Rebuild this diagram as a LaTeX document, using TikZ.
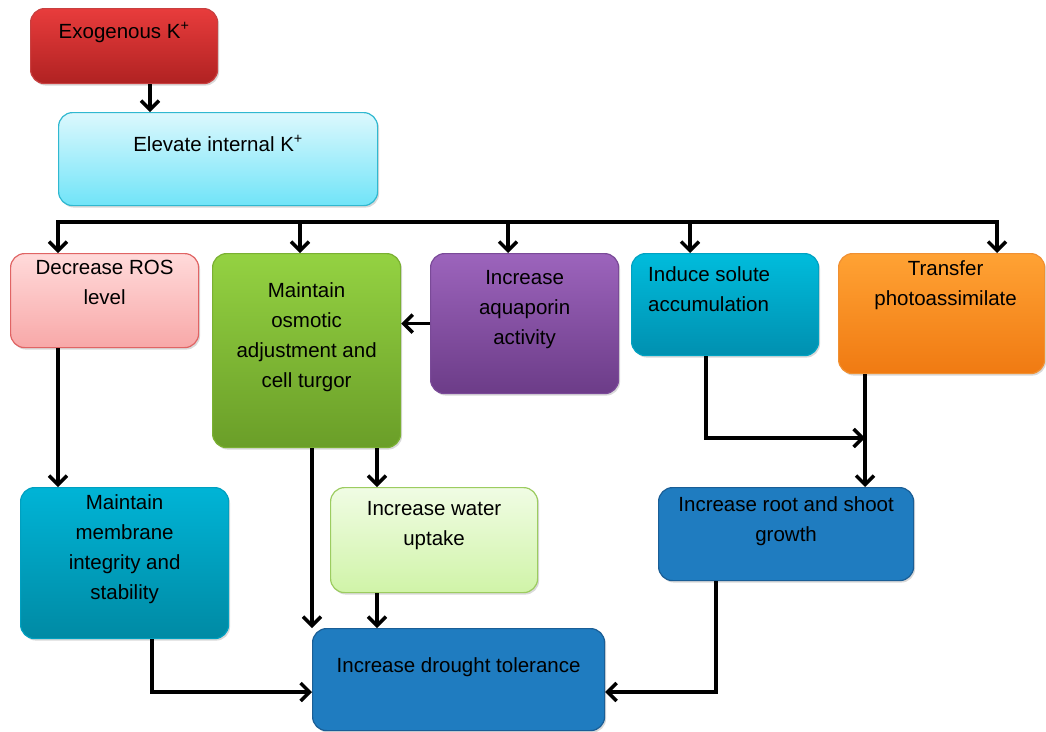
\documentclass[tikz,border=0pt]{standalone}
\usepackage{fontspec}
\setmainfont{Liberation Sans}
\usetikzlibrary{arrows.meta,shadows}
\definecolor{exoT}{HTML}{E83C3C}  \definecolor{exoB}{HTML}{B02222}  \definecolor{exoD}{HTML}{C84040}
\definecolor{elvT}{HTML}{DCF8FD}  \definecolor{elvB}{HTML}{70E4F8}  \definecolor{elvD}{HTML}{30B8D0}
\definecolor{rosT}{HTML}{FFDADA}  \definecolor{rosB}{HTML}{F8A8A8}  \definecolor{rosD}{HTML}{E06464}
\definecolor{osmT}{HTML}{94D242}  \definecolor{osmB}{HTML}{6A9E28}  \definecolor{osmD}{HTML}{7AB032}
\definecolor{aquT}{HTML}{9C64BC}  \definecolor{aquB}{HTML}{6C3C88}  \definecolor{aquD}{HTML}{7A4A98}
\definecolor{solT}{HTML}{00BCDC}  \definecolor{solB}{HTML}{0090B0}  \definecolor{solD}{HTML}{00A2C2}
\definecolor{traT}{HTML}{FFA234}  \definecolor{traB}{HTML}{F07A12}  \definecolor{traD}{HTML}{F09032}
\definecolor{memT}{HTML}{00B4D6}  \definecolor{memB}{HTML}{008AA4}  \definecolor{memD}{HTML}{00A0C0}
\definecolor{watT}{HTML}{F0FCE4}  \definecolor{watB}{HTML}{D0F4A8}  \definecolor{watD}{HTML}{9CCC60}
\definecolor{bluF}{HTML}{1F7CC0}  \definecolor{bluD}{HTML}{1A5E96}
\newcommand\boxfont{\fontsize{20.5}{30}\selectfont}
\tikzset{
  box/.style n args={3}{top color=#1, bottom color=#2, draw=#3, line width=1.2pt,
    rounded corners=14pt, anchor=north west,
    drop shadow={opacity=0.3, shadow xshift=1.5pt, shadow yshift=-2pt}},
  txt/.style={anchor=north, inner sep=0pt, align=center, font=\boxfont},
  >={Straight Barb[length=9pt,width=18pt]},
  arr/.style={->, line width=3.5pt},
}
\begin{document}
\begin{tikzpicture}[x=1pt,y=-1pt]
\useasboundingbox (0,0) rectangle (1046,731);
% boxes
\node[box={exoT}{exoB}{exoD}, minimum width=187pt, minimum height=75pt] (exo) at (30,8) {};
\node[box={elvT}{elvB}{elvD}, minimum width=319pt, minimum height=93pt] (elev) at (58,112) {};
\node[box={rosT}{rosB}{rosD}, minimum width=188pt, minimum height=94pt] (ros) at (10,253) {};
\node[box={osmT}{osmB}{osmD}, minimum width=188pt, minimum height=194pt] (osm) at (212,253) {};
\node[box={aquT}{aquB}{aquD}, minimum width=188pt, minimum height=140pt] (aqua) at (430,253) {};
\node[box={solT}{solB}{solD}, minimum width=187pt, minimum height=102pt] (sol) at (631,253) {};
\node[box={traT}{traB}{traD}, minimum width=206pt, minimum height=120pt] (tra) at (838,253) {};
\node[box={memT}{memB}{memD}, minimum width=208pt, minimum height=151pt] (mem) at (20,487) {};
\node[box={watT}{watB}{watD}, minimum width=207pt, minimum height=105pt] (wat) at (330,487) {};
\node[box={bluF}{bluF}{bluD}, minimum width=255pt, minimum height=93pt] (root) at (658,487) {};
\node[box={bluF}{bluF}{bluD}, minimum width=292pt, minimum height=102pt] (dro) at (312,628) {};
% texts
\node[txt] at ([yshift=-14pt]exo.north) {Exogenous K\textsuperscript{+}};
\node[txt] at ([yshift=-23pt]elev.north) {Elevate internal K\textsuperscript{+}};
\node[txt] at ([yshift=-7pt]ros.north) {Decrease ROS\\level};
\node[txt] at ([yshift=-29pt]osm.north) {Maintain\\osmotic\\adjustment and\\cell turgor};
\node[txt] at ([yshift=-17pt]aqua.north) {Increase\\aquaporin\\activity};
\node[txt, anchor=north west, align=left] at ([xshift=17pt,yshift=-13pt]sol.north west) {Induce solute\\accumulation};
\node[txt] at ([xshift=4pt,yshift=-7pt]tra.north) {Transfer\\photoassimilate};
\node[txt] at ([yshift=-7pt]mem.north) {Maintain\\membrane\\integrity and\\stability};
\node[txt] at ([yshift=-14pt]wat.north) {Increase water\\uptake};
\node[txt] at ([yshift=-9pt]root.north) {Increase root and shoot\\growth};
\node[txt] at ([yshift=-29pt]dro.north) {Increase drought tolerance};
% connectors
\draw[arr] (150,0 |- exo.south) -- (150,0 |- elev.north);
\draw[arr, <->] (58,0 |- ros.north) -- (58,222) -- (997,222) -- (997,0 |- tra.north);
\foreach \x/\n in {300/osm, 508/aqua, 690/sol}
  \draw[arr] (\x,222) -- (\x,0 |- \n.north);
\draw[arr] (aqua.west) -- (osm.east |- aqua.west);
\draw[arr] (58,0 |- ros.south) -- (58,0 |- mem.north);
\draw[arr] (377,0 |- osm.south) -- (377,0 |- wat.north);
\draw[arr] (312,0 |- osm.south) -- (312,0 |- dro.north);
\draw[arr] (377,0 |- wat.south) -- (377,0 |- dro.north);
\draw[arr] (152,0 |- mem.south) -- (152,692) -- (dro.west |- 0,692);
\draw[arr] (716,0 |- root.south) -- (716,692) -- (dro.east |- 0,692);
\draw[arr] (706,0 |- sol.south) -- (706,438) -- (865,438);
\draw[arr] (865,0 |- tra.south) -- (865,0 |- root.north);
\end{tikzpicture}
\end{document}
